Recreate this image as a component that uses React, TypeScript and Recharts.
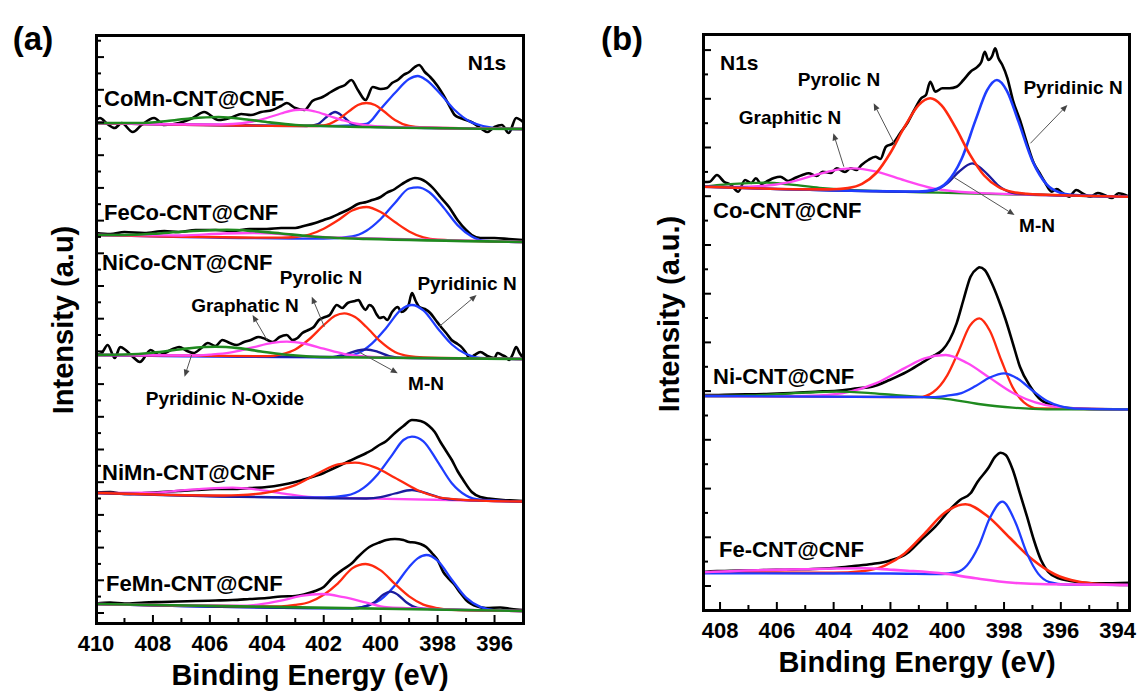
import React from "react";
import { LineChart, Line, XAxis, YAxis, ReferenceLine } from "recharts";

type Pts = [number, number][];

const FONT = '"Liberation Sans", Arial, Helvetica, sans-serif';

const C_EXP = "#000000";
const C_PYRIDINIC = "#1f3dff";
const C_MN = "#1b1b9e";
const C_PYROLIC = "#ff2a0f";
const C_GRAPHITIC = "#ff47f2";
const C_OXIDE = "#1f8a1f";

// ---------- panel (a) : binding energy (eV) vs intensity (a.u.) ----------
const aXTicks = [396, 397, 398, 399, 400, 401, 402, 403, 404, 405, 406, 407, 408, 409, 410];
const aYTicks = [10, 26.4, 42.7, 59.1, 75.4, 91.8, 108.1, 124.5, 140.8, 157.2, 173.5, 189.9, 206.2, 222.6, 238.9, 255.3, 271.6, 288, 304.3, 320.7, 337, 353.4, 369.7, 386.1, 402.4, 418.8, 435.1, 451.5, 467.8, 484.2, 500.5, 516.9, 533.2, 549.6, 565.9, 582.3];

// CoMn-CNT@CNF
const aCoMnExp: Pts = [[410, 503], [409.86, 505], [409.6, 499], [409.34, 495], [409.1, 500], [408.71, 491], [408.4, 498], [407.96, 505], [407.6, 498], [407.08, 500], [406.6, 505], [406.2, 511], [405.7, 503], [405.2, 506], [404.9, 509], [404.56, 508], [404.2, 511], [403.8, 513], [403.5, 517], [403.3, 520], [403, 515], [402.67, 513], [402.4, 522], [402.04, 526], [401.75, 531], [401.5, 535], [401.25, 538], [401.03, 543], [400.8, 533], [400.53, 523], [400.28, 536], [400, 534], [399.78, 535], [399.6, 540], [399.4, 543], [399.2, 548], [399, 551], [398.8, 556], [398.65, 558], [398.45, 551], [398.26, 546], [398, 537], [397.8, 528], [397.6, 518], [397.4, 508], [397.2, 505], [397, 503], [396.75, 500], [396.5, 495], [396.25, 491], [396, 496], [395.74, 498], [395.5, 490], [395.24, 505], [395, 501]];
const aCoMnPyridinic: Pts = [[410, 500], [401.5, 497], [400.5, 499], [400, 514], [399.5, 530], [399, 544], [398.7, 547], [398.4, 543], [397.9, 529], [397.4, 513], [396.9, 502], [396.4, 497], [395.5, 494], [395, 494]];
const aCoMnMN: Pts = [[410, 500], [402.6, 497], [402.2, 499], [401.9, 506], [401.6, 511], [401.3, 506], [401, 499], [400.6, 496.5], [395, 494]];
const aCoMnPyrolic: Pts = [[410, 500], [402.5, 497], [402, 497.5], [401.5, 503.5], [401.1, 512], [400.8, 518], [400.5, 520], [400.2, 518], [399.9, 512], [399.5, 503], [399, 497], [398.5, 495.5], [395, 494]];
const aCoMnGraphitic: Pts = [[410, 500], [406, 498.5], [405.2, 499], [404.5, 501.5], [404, 505], [403.5, 509.5], [403, 513], [402.7, 513.3], [402.3, 511.5], [401.8, 507], [401.3, 502.5], [400.8, 499], [400.2, 496.8], [399.5, 496], [395, 494]];
const aCoMnOxide: Pts = [[410, 500], [408.5, 500], [407.5, 502], [406.7, 504.5], [405.7, 506], [404.7, 503.5], [403.9, 500.6], [403, 498], [402, 497], [395, 494]];

// FeCo-CNT@CNF
const aFeCoExp: Pts = [[410, 390], [409.5, 389], [409, 391], [408.3, 390], [407.6, 392], [407.1, 391], [406.5, 393], [405.8, 393], [405.2, 392], [404.6, 394], [404, 394], [403.5, 395], [403, 395], [402.7, 397], [402.3, 400], [402, 403], [401.7, 406], [401.4, 410], [401.1, 414], [400.8, 419], [400.5, 421], [400.3, 423], [400, 426], [399.8, 430], [399.5, 434], [399.3, 438], [399, 443], [398.8, 445], [398.6, 444], [398.4, 441], [398.1, 433], [397.9, 426], [397.6, 416], [397.3, 403], [397, 393], [396.8, 388], [396.5, 385], [396, 385], [395.5, 384], [395, 383]];
const aFeCoPyridinic: Pts = [[410, 388], [402, 384.3], [401, 386.6], [400.5, 392.3], [400, 404], [399.5, 420], [399, 434.5], [398.7, 435.7], [398.3, 431], [397.8, 415.8], [397.3, 397.9], [396.8, 386.6], [396.3, 382], [395, 381]];
const aFeCoPyrolic: Pts = [[410, 388], [403.5, 385.3], [403, 386], [402.5, 388.5], [402, 394.3], [401.5, 402.7], [401, 412.5], [400.5, 416], [400, 411], [399.5, 401], [399, 391.6], [398.5, 385.6], [398, 383.3], [395, 381]];
const aFeCoGraphitic: Pts = [[410, 388], [407, 387.5], [405.5, 389.5], [404.5, 390], [403.5, 389], [402.5, 386.5], [401, 385], [395, 381]];
const aFeCoOxide: Pts = [[410, 388], [409, 388], [408, 389.2], [407, 391.2], [406, 392.8], [405.4, 393.2], [404.5, 392], [403.5, 389.5], [402.5, 386.7], [401.5, 385], [400.5, 384.1], [395, 381]];

// NiCo-CNT@CNF
const aNiCoExp: Pts = [[410, 268], [409.8, 270], [409.59, 278], [409.34, 265], [409.15, 276], [408.96, 273], [408.7, 266], [408.46, 261], [408.08, 273], [407.8, 268], [407.58, 270], [407.3, 274], [407.08, 276], [406.8, 272], [406.57, 270], [406.3, 275], [406.07, 280], [405.8, 277], [405.56, 283], [405.3, 280], [405.06, 278], [404.8, 281], [404.56, 283], [404.3, 286], [404.05, 284], [403.8, 281], [403.55, 286], [403.3, 288], [403.1, 283], [402.92, 285], [402.75, 290], [402.54, 293], [402.35, 296], [402.17, 303], [401.95, 306], [401.79, 308], [401.54, 318], [401.35, 315], [401.16, 320], [400.9, 322], [400.78, 323], [400.65, 317], [400.53, 313], [400.4, 318], [400.28, 316], [400.15, 309], [400.03, 305], [399.9, 306], [399.77, 303], [399.6, 311], [399.4, 316], [399.27, 311], [399.14, 313], [399.02, 318], [398.9, 330], [398.77, 322], [398.64, 316], [398.45, 314], [398.26, 310], [398.07, 303], [397.88, 296], [397.7, 290], [397.51, 283], [397.3, 279], [397.13, 275], [397, 270], [396.88, 265], [396.7, 268], [396.5, 271], [396.25, 267], [396, 265], [395.9, 270], [395.74, 268], [395.6, 266], [395.49, 263], [395.37, 268], [395.24, 276], [395.12, 270], [395, 265]];
const aNiCoPyridinic: Pts = [[410, 268], [401.5, 265.7], [400.8, 269.8], [400.3, 279.7], [399.8, 295.3], [399.3, 312.8], [398.9, 318], [398.5, 312.6], [398, 294.8], [397.5, 278.5], [397, 269], [396.5, 265.2], [395, 264]];
const aNiCoMN: Pts = [[410, 268], [401.8, 266], [401.2, 268.9], [400.8, 272.5], [400.5, 273.5], [400.1, 271.2], [399.7, 267], [399.2, 265.2], [395, 264]];
const aNiCoPyrolic: Pts = [[410, 268], [404, 266.8], [403.5, 268.7], [403, 273.6], [402.5, 284], [402, 297.8], [401.6, 307.3], [401.28, 309.7], [400.9, 306], [400.5, 296], [400, 281.3], [399.5, 271], [399, 266.8], [398.5, 265.5], [395, 264]];
const aNiCoGraphitic: Pts = [[410, 268], [406.5, 267.5], [406, 268.4], [405.3, 270.4], [404.5, 275.6], [403.8, 280.1], [403.3, 281.3], [402.7, 279.5], [402, 274.3], [401.3, 269.2], [400.5, 266.5], [399.5, 265.2], [395, 264]];
const aNiCoOxide: Pts = [[410, 268.1], [409, 268.5], [408, 270.3], [407, 273.8], [406.2, 276], [405.8, 276.3], [405, 274.9], [404.2, 271.5], [403.4, 268.5], [402.5, 266.5], [401.5, 265.7], [395, 264]];

// NiMn-CNT@CNF
const aNiMnExp: Pts = [[410, 130.5], [409.5, 131], [409, 129], [408.3, 130], [407.7, 131], [407.1, 132], [406.5, 133], [405.8, 134], [405.2, 134], [404.6, 135], [404, 136], [403.5, 138], [403, 141], [402.7, 143.5], [402.3, 147], [402, 150], [401.7, 154], [401.4, 158], [401.1, 162], [400.8, 166], [400.5, 170], [400.3, 173], [400.1, 177], [399.8, 182], [399.5, 190], [399.2, 197], [398.9, 203], [398.6, 202], [398.3, 197], [398.1, 191], [397.9, 181], [397.7, 172], [397.5, 163], [397.3, 152], [397.1, 143], [396.8, 131], [396.5, 126], [396.2, 124.5], [395.7, 123], [395.3, 122.5], [395, 122]];
const aNiMnPyridinic: Pts = [[410, 130], [402, 125.5], [401.2, 127.5], [400.6, 135.1], [400.1, 148.8], [399.6, 167.9], [399.2, 183], [398.9, 186.3], [398.5, 181.7], [398, 161.4], [397.5, 139.8], [397, 127.5], [396.5, 123.3], [395, 121.5]];
const aNiMnPyrolic: Pts = [[410, 130], [405.5, 127.5], [405, 127.8], [404, 130.4], [403, 137.9], [402.2, 149.6], [401.5, 158.7], [400.9, 160.3], [400.2, 155.6], [399.5, 145.3], [398.7, 132.8], [398, 126], [397.2, 123.4], [396.5, 122.4], [395, 121.5]];
const aNiMnMN: Pts = [[410, 130], [400.5, 124.5], [400, 125.8], [399.5, 129.5], [398.9, 133], [398.3, 128.9], [397.8, 124.5], [397.2, 123.2], [395, 121.5]];
const aNiMnGraphitic: Pts = [[410, 130], [408, 130.4], [407, 132.6], [406, 134.7], [405.2, 135.3], [404.4, 133.6], [403.4, 129.4], [402.4, 125.9], [401.5, 125.2], [395, 121.5]];

// FeMn-CNT@CNF
const aFeMnExp: Pts = [[410, 19.5], [409.5, 20.5], [409, 19.5], [408.3, 20.5], [407.7, 21], [407.1, 21.5], [406.5, 22], [405.8, 22.5], [405.2, 23], [404.6, 24], [404, 25], [403.5, 26.5], [403, 27], [402.7, 28.5], [402.3, 32], [402, 36], [401.7, 45], [401.3, 54], [401, 60], [400.8, 66], [400.4, 76], [400, 81], [399.8, 83], [399.5, 84], [399.2, 83], [399, 81], [398.8, 80.5], [398.6, 79], [398.4, 76], [398.2, 70], [398, 63], [397.8, 51], [397.6, 44], [397.4, 38], [397.2, 30], [397, 23], [396.6, 16.5], [396.3, 15], [395.8, 15.5], [395.4, 14], [395, 13]];
const aFeMnPyridinic: Pts = [[410, 19], [401, 14.7], [400.4, 17.8], [400, 23.4], [399.5, 37.5], [399, 56], [398.7, 64.6], [398.39, 68], [398, 62.4], [397.5, 43.2], [397, 25.3], [396.5, 16.1], [396, 12.9], [395, 12]];
const aFeMnPyrolic: Pts = [[410, 19], [403.5, 16.6], [403, 18], [402.5, 21], [402, 28.3], [401.5, 39.6], [401, 54.6], [400.53, 59], [400, 52.6], [399.5, 39.1], [399, 26.6], [398.5, 18.4], [398, 14.9], [397.5, 13.2], [395, 12]];
const aFeMnMN: Pts = [[410, 19], [401, 14.8], [400.6, 16], [400.2, 21.1], [399.9, 28.5], [399.65, 31.3], [399.4, 28.3], [399.1, 20.8], [398.7, 15.2], [398.2, 14], [395, 12]];
const aFeMnGraphitic: Pts = [[410, 19], [405, 17.3], [404.3, 18.4], [403.5, 22.3], [402.8, 27.1], [402.04, 29], [401.3, 25.8], [400.5, 20.4], [399.8, 15.8], [399, 14.8], [395, 12]];
const aFeMnOxide: Pts = [[410, 19], [395, 12]];

// arrows (a): [fromE, fromI, toE, toI]
const aArrows = [
  [403.99, 283, 404.5, 308],
  [401.98, 296.3, 402.42, 326.3],
  [397.95, 296.3, 396.63, 328],
  [400.78, 271.3, 399.4, 249.7],
  [406.64, 268, 406.89, 246.3],
];

// ---------- panel (b) ----------
const bXTicks = [394, 395, 396, 397, 398, 399, 400, 401, 402, 403, 404, 405, 406, 407, 408];
const bYTicks = [24, 48.4, 72.7, 97.1, 121.4, 145.8, 170.2, 194.5, 218.9, 243.2, 267.6, 292, 316.3, 340.7, 365, 389.4, 413.8, 438.1, 462.5, 486.8, 511.2, 535.6, 559.9];

// Co-CNT@CNF
const bCoExp: Pts = [[408.55, 428], [408.36, 428.3], [408.11, 435], [407.86, 428.3], [407.61, 425], [407.36, 418.3], [407.12, 430], [406.9, 427], [406.74, 431.7], [406.55, 426], [406.37, 428.3], [406.1, 432], [405.88, 433.3], [405.6, 429], [405.38, 431.7], [405.1, 435], [404.88, 436.7], [404.6, 434], [404.39, 438.3], [404.1, 437], [403.89, 441.7], [403.6, 438], [403.4, 441.7], [403.2, 440], [403.02, 445], [402.78, 450], [402.53, 453.3], [402.35, 451], [402.16, 463.3], [401.91, 466.7], [401.66, 476.7], [401.41, 486.7], [401.16, 500], [400.92, 511.7], [400.75, 515], [400.6, 528.3], [400.42, 518.3], [400.17, 521.7], [399.92, 521.7], [399.67, 523.3], [399.43, 530], [399.18, 538.3], [398.93, 543.3], [398.8, 548], [398.68, 558.3], [398.55, 550], [398.43, 553.3], [398.31, 561.7], [398.2, 552], [398.06, 545], [397.88, 531.7], [397.69, 510], [397.44, 490], [397.19, 466.7], [396.95, 446.7], [396.75, 437], [396.57, 428.3], [396.32, 418.3], [396.15, 421], [395.95, 417.3], [395.71, 413.3], [395.46, 420], [395.2, 416], [394.96, 413.3], [394.7, 417], [394.47, 415], [394.2, 412], [393.97, 416.7], [393.6, 413.3]];
const bCoPyrolic: Pts = [[408.6, 423.3], [404.5, 420.6], [404, 420.7], [403.5, 421.9], [403, 426.2], [402.5, 437], [402, 457.3], [401.5, 483.3], [401, 505.2], [400.6, 511.7], [400.2, 504.7], [399.7, 482.1], [399.2, 455.4], [398.7, 434.5], [398.2, 423], [397.7, 418], [397.2, 416.2], [396.5, 415.2], [393.6, 413.3]];
const bCoPyridinic: Pts = [[408.6, 423.3], [401, 418.5], [400.5, 420], [400, 428], [399.5, 450.7], [399, 490.1], [398.6, 519.6], [398.25, 530], [397.9, 519.2], [397.5, 489.1], [397, 449.1], [396.5, 425.6], [396, 417.1], [395.5, 414.9], [393.6, 413.3]];
const bCoMN: Pts = [[408.6, 423.3], [401, 418.2], [400.5, 419.5], [400, 426.7], [399.6, 438], [399.12, 446.7], [398.6, 436.2], [398.2, 424.4], [397.7, 417.2], [397.2, 415.8], [393.6, 413.3]];
const bCoGraphitic: Pts = [[408.6, 423.3], [407.5, 423], [406.5, 424], [405.5, 428.2], [404.5, 436.1], [403.8, 440.7], [403.27, 441.7], [402.5, 438.4], [401.5, 429.6], [400.5, 421.6], [399.5, 418], [398.5, 416.6], [393.6, 413.3]];
const bCoOxide: Pts = [[408.6, 423.3], [408, 425], [407, 426.8], [406.37, 427.3], [405.5, 425.4], [404.5, 422.2], [403.5, 420.2], [402.5, 419.2], [393.6, 413.3]];

// Ni-CNT@CNF
const bNiExp: Pts = [[408.55, 215], [408.48, 215], [407.5, 215.5], [406.37, 216], [405.5, 217], [404.64, 218.3], [403.89, 219.3], [403.15, 221.7], [402.65, 223.3], [402.03, 230], [401.41, 238.3], [400.92, 246.7], [400.54, 253.3], [400.17, 260], [399.92, 270], [399.67, 286.7], [399.43, 310], [399.18, 333.3], [398.93, 341.7], [398.87, 342.7], [398.68, 340], [398.43, 326.7], [398.19, 310], [397.94, 290], [397.69, 266.7], [397.44, 243.3], [397.07, 223.3], [396.7, 210], [396.33, 205], [395.83, 202.3], [395.21, 201.3], [393.6, 200.7]];
const bNiPyrolic: Pts = [[408.6, 214], [401, 212.8], [400.5, 217.8], [400, 234.7], [399.6, 258.8], [399.2, 284.3], [398.87, 291.7], [398.5, 279.3], [398.1, 250], [397.7, 222.9], [397.3, 207.6], [396.8, 201.5], [393.6, 200.7]];
const bNiGraphitic: Pts = [[408.6, 214], [405.5, 213.8], [404.5, 214.5], [403.5, 217.8], [402.5, 226.9], [401.5, 241.9], [400.8, 251.6], [400.05, 255], [399.3, 247], [398.5, 232.1], [397.7, 217.2], [396.9, 207.6], [396.1, 202.8], [395, 201], [393.6, 200.7]];
const bNiPyridinic: Pts = [[408.6, 214], [401.5, 213], [400.5, 212.8], [400, 214.4], [399.5, 216.9], [399, 224], [398.5, 232.5], [398, 236.7], [397.5, 231], [397, 219.5], [396.5, 209.2], [396, 203.6], [395.5, 201.4], [393.6, 200.7]];
const bNiOxide: Pts = [[408.6, 214], [407, 214.5], [406, 215.8], [405, 217.3], [403.9, 218.3], [402.8, 217.1], [401.8, 214.8], [400.8, 212.8], [400.2, 211.7], [398.9, 206], [397.7, 202.3], [396.5, 200.7], [393.6, 200.7]];

// Fe-CNT@CNF
const bFeExp: Pts = [[408.55, 38], [408.48, 38.3], [408, 39], [407.61, 39.3], [407, 39.5], [406.37, 40], [405.7, 40.3], [405.13, 40.7], [404.5, 41.3], [403.89, 42.3], [403.3, 44], [402.65, 46], [402.03, 49.3], [401.41, 56.7], [400.92, 70], [400.42, 83.3], [399.92, 100], [399.55, 110], [399.18, 116.7], [398.93, 128.3], [398.56, 141.7], [398.31, 153.3], [398.12, 157.3], [397.94, 155], [397.69, 140], [397.44, 116.7], [397.19, 93.3], [396.95, 70], [396.7, 50], [396.45, 38.3], [396.08, 31.7], [395.71, 29.3], [395.21, 27.3], [394.59, 26.7], [393.6, 27.3]];
const bFePyrolic: Pts = [[408.6, 37.7], [404, 37.1], [403, 38.7], [402.2, 44.4], [401.5, 56.6], [400.8, 76.4], [400.1, 97], [399.36, 105.7], [398.6, 94.2], [397.8, 72.2], [397, 50.4], [396.2, 35.5], [395.4, 28.4], [394.6, 25.9], [393.6, 25]];
const bFePyridinic: Pts = [[408.6, 36.7], [402, 36.5], [400.2, 36], [399.7, 37.5], [399.3, 44.8], [398.9, 63.5], [398.5, 92], [398.06, 108.3], [397.6, 87.8], [397.2, 57.1], [396.8, 36.4], [396.4, 27.9], [395.8, 25.3], [393.6, 25]];
const bFeGraphitic: Pts = [[408.6, 37.7], [406.4, 40], [405.1, 40.7], [404, 41.5], [402.9, 41.7], [402, 40.3], [401.4, 39.3], [400.2, 36.7], [399, 31.7], [397.7, 27.3], [396.5, 25.7], [393.6, 25]];

const bArrows = [
  [403.64, 443.3, 404.01, 476.7],
  [401.84, 465, 402.59, 506.7],
  [397.07, 466.7, 395.77, 505],
  [399.8, 433.3, 397.63, 395],
];

type Series = { data: Pts; color: string; w: number };

const EXP_W = 2.6;
const FIT_W = 2.3;

const aSeries: Series[] = [
  { data: aCoMnExp, color: C_EXP, w: EXP_W },
  { data: aCoMnPyridinic, color: C_PYRIDINIC, w: FIT_W },
  { data: aCoMnMN, color: C_MN, w: FIT_W },
  { data: aCoMnPyrolic, color: C_PYROLIC, w: FIT_W },
  { data: aCoMnGraphitic, color: C_GRAPHITIC, w: FIT_W },
  { data: aCoMnOxide, color: C_OXIDE, w: EXP_W },
  { data: aFeCoExp, color: C_EXP, w: EXP_W },
  { data: aFeCoPyridinic, color: C_PYRIDINIC, w: FIT_W },
  { data: aFeCoPyrolic, color: C_PYROLIC, w: FIT_W },
  { data: aFeCoGraphitic, color: C_GRAPHITIC, w: FIT_W },
  { data: aFeCoOxide, color: C_OXIDE, w: EXP_W },
  { data: aNiCoExp, color: C_EXP, w: EXP_W },
  { data: aNiCoPyridinic, color: C_PYRIDINIC, w: FIT_W },
  { data: aNiCoMN, color: C_MN, w: FIT_W },
  { data: aNiCoPyrolic, color: C_PYROLIC, w: FIT_W },
  { data: aNiCoGraphitic, color: C_GRAPHITIC, w: FIT_W },
  { data: aNiCoOxide, color: C_OXIDE, w: EXP_W },
  { data: aNiMnExp, color: C_EXP, w: EXP_W },
  { data: aNiMnGraphitic, color: C_GRAPHITIC, w: FIT_W },
  { data: aNiMnPyridinic, color: C_PYRIDINIC, w: FIT_W },
  { data: aNiMnMN, color: C_MN, w: FIT_W },
  { data: aNiMnPyrolic, color: C_PYROLIC, w: FIT_W },
  { data: aFeMnExp, color: C_EXP, w: EXP_W },
  { data: aFeMnPyridinic, color: C_PYRIDINIC, w: FIT_W },
  { data: aFeMnMN, color: C_MN, w: FIT_W },
  { data: aFeMnPyrolic, color: C_PYROLIC, w: FIT_W },
  { data: aFeMnGraphitic, color: C_GRAPHITIC, w: FIT_W },
  { data: aFeMnOxide, color: C_OXIDE, w: EXP_W },
];

const bSeries: Series[] = [
  { data: bCoExp, color: C_EXP, w: EXP_W },
  { data: bCoOxide, color: C_OXIDE, w: FIT_W },
  { data: bCoGraphitic, color: C_GRAPHITIC, w: FIT_W },
  { data: bCoMN, color: C_MN, w: FIT_W },
  { data: bCoPyridinic, color: C_PYRIDINIC, w: EXP_W },
  { data: bCoPyrolic, color: C_PYROLIC, w: EXP_W },
  { data: bNiExp, color: C_EXP, w: EXP_W },
  { data: bNiPyrolic, color: C_PYROLIC, w: FIT_W },
  { data: bNiGraphitic, color: C_GRAPHITIC, w: FIT_W },
  { data: bNiOxide, color: C_OXIDE, w: FIT_W },
  { data: bNiPyridinic, color: C_PYRIDINIC, w: FIT_W },
  { data: bFeExp, color: C_EXP, w: EXP_W },
  { data: bFePyrolic, color: C_PYROLIC, w: EXP_W },
  { data: bFePyridinic, color: C_PYRIDINIC, w: FIT_W },
  { data: bFeGraphitic, color: C_GRAPHITIC, w: EXP_W },
];

const toPts = (arr: Pts) => arr.map(([e, v]) => ({ e, v }));

function ArrowShape(props: any) {
  const { x1, y1, x2, y2 } = props;
  const ang = Math.atan2(y2 - y1, x2 - x1);
  const L = 7;
  const W = 3;
  const bx = x2 - L * Math.cos(ang);
  const by = y2 - L * Math.sin(ang);
  const p1 = `${bx + W * Math.sin(ang)},${by - W * Math.cos(ang)}`;
  const p2 = `${bx - W * Math.sin(ang)},${by + W * Math.cos(ang)}`;
  return (
    <g>
      <line x1={x1} y1={y1} x2={bx} y2={by} stroke="#555" strokeWidth={1} />
      <polygon points={`${x2},${y2} ${p1} ${p2}`} fill="#444" />
    </g>
  );
}

interface PanelProps {
  plot: { left: number; top: number; right: number; bottom: number };
  xDomain: [number, number];
  xTicks: number[];
  yDomain: [number, number];
  yTicks: number[];
  series: Series[];
  arrows: number[][];
}

function Panel({ plot, xDomain, xTicks, yDomain, yTicks, series, arrows }: PanelProps) {
  // axes get 1px of room so that recharts draws their ticks
  const margin = { top: plot.top, left: plot.left - 1, right: 1140 - plot.right, bottom: 691 - plot.bottom - 1 };
  return (
    <div style={{ position: "absolute", left: 0, top: 0 }}>
      <LineChart width={1140} height={691} margin={margin}>
        <XAxis
          type="number"
          dataKey="e"
          domain={xDomain}
          reversed
          allowDataOverflow
          ticks={xTicks}
          interval={0}
          height={1}
          axisLine={false}
          tickLine={false}
          tick={(p: any) => {
            const major = p.payload.value % 2 === 0;
            return (
              <g key={"xt" + p.payload.value}>
                <line x1={p.x} x2={p.x} y1={plot.bottom} y2={plot.bottom - (major ? 8 : 5)} stroke="#000" strokeWidth={2} />
                {major && (
                  <text x={p.x} y={plot.bottom + 28} textAnchor="middle" fontFamily={FONT} fontWeight={700} fontSize={22} fill="#000">
                    {p.payload.value}
                  </text>
                )}
              </g>
            );
          }}
        />
        <YAxis
          type="number"
          dataKey="v"
          domain={yDomain}
          allowDataOverflow
          ticks={yTicks}
          interval={0}
          width={1}
          axisLine={false}
          tickLine={false}
          tick={(p: any) => (
            <line
              key={"yt" + p.index}
              x1={plot.left}
              x2={plot.left + (p.index % 2 === 0 ? 8 : 5)}
              y1={p.y}
              y2={p.y}
              stroke="#000"
              strokeWidth={2}
            />
          )}
        />
        {series.map((s, i) => (
          <Line
            key={i}
            data={toPts(s.data)}
            dataKey="v"
            type="monotone"
            stroke={s.color}
            strokeWidth={s.w}
            dot={false}
            isAnimationActive={false}
          />
        ))}
        {arrows.map((a, i) => (
          <ReferenceLine
            key={"ar" + i}
            segment={[{ x: a[0], y: a[1] }, { x: a[2], y: a[3] }]}
            shape={ArrowShape}
          />
        ))}
      </LineChart>
    </div>
  );
}

const base: React.CSSProperties = {
  position: "absolute",
  fontFamily: FONT,
  fontWeight: 700,
  color: "#000",
  whiteSpace: "nowrap",
  lineHeight: 1,
};

function T({ x, y, size, children, align = "center", rotate = false }: any) {
  const tf = rotate
    ? "translate(-50%,-50%) rotate(-90deg)"
    : align === "left"
    ? "translate(0,-50%)"
    : "translate(-50%,-50%)";
  return <div style={{ ...base, left: x, top: y, fontSize: size, transform: tf }}>{children}</div>;
}

export default function App() {
  return (
    <div style={{ position: "relative", width: 1140, height: 691, background: "#fff", overflow: "hidden" }}>
      <style>{"body{margin:0}"}</style>
      <Panel
        plot={{ left: 96, top: 35, right: 523, bottom: 623 }}
        xDomain={[395, 410]}
        xTicks={aXTicks}
        yDomain={[0, 588]}
        yTicks={aYTicks}
        series={aSeries}
        arrows={aArrows}
      />
      <Panel
        plot={{ left: 703, top: 34, right: 1129, bottom: 610 }}
        xDomain={[393.6, 408.6]}
        xTicks={bXTicks}
        yDomain={[0, 576]}
        yTicks={bYTicks}
        series={bSeries}
        arrows={bArrows}
      />
      {/* frames */}
      <div style={{ position: "absolute", left: 94.5, top: 33.5, width: 430, height: 591, border: "3px solid #000", boxSizing: "border-box" }} />
      <div style={{ position: "absolute", left: 701.5, top: 32.5, width: 429, height: 579, border: "3px solid #000", boxSizing: "border-box" }} />

      {/* panel (a) text */}
      <T x={33} y={38} size={33}>(a)</T>
      <T x={487} y={62} size={21}>N1s</T>
      <T x={104} y={99} size={22} align="left">CoMn-CNT@CNF</T>
      <T x={104} y={213} size={22} align="left">FeCo-CNT@CNF</T>
      <T x={102} y={263} size={22} align="left">NiCo-CNT@CNF</T>
      <T x={102} y={473} size={22} align="left">NiMn-CNT@CNF</T>
      <T x={106} y={584} size={22} align="left">FeMn-CNT@CNF</T>
      <T x={321} y={277} size={19}>Pyrolic N</T>
      <T x={467} y={283} size={19}>Pyridinic N</T>
      <T x={245} y={305} size={19}>Graphatic N</T>
      <T x={426} y={383} size={19}>M-N</T>
      <T x={225} y={398} size={19}>Pyridinic N-Oxide</T>
      <T x={310} y={675} size={29}>Binding Energy (eV)</T>
      <T x={63} y={320} size={29} rotate>Intensity (a.u)</T>

      {/* panel (b) text */}
      <T x={622} y={38} size={33}>(b)</T>
      <T x={720} y={62} size={21} align="left">N1s</T>
      <T x={713} y={211} size={22} align="left">Co-CNT@CNF</T>
      <T x={713} y={377} size={22} align="left">Ni-CNT@CNF</T>
      <T x={719} y={550} size={22} align="left">Fe-CNT@CNF</T>
      <T x={839} y={79} size={19}>Pyrolic N</T>
      <T x={790} y={117} size={19}>Graphitic N</T>
      <T x={1073} y={87} size={19}>Pyridinic N</T>
      <T x={1037} y={225} size={19}>M-N</T>
      <T x={917} y={662} size={29}>Binding Energy (eV)</T>
      <T x={669} y={314} size={29} rotate>Intensity (a.u.)</T>
    </div>
  );
}
